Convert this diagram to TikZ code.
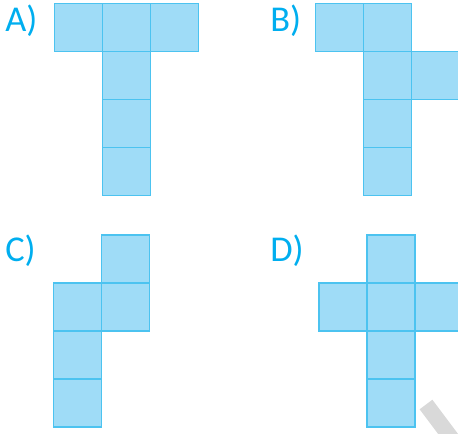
\documentclass[tikz,border=0pt]{standalone}
\usepackage{fontspec}
\setmainfont{Carlito}
\usepackage{xcolor}
\usepackage{tikz}
\usetikzlibrary{positioning}

\definecolor{cellfill}{HTML}{9FDCF7}
\definecolor{celledge}{HTML}{4CC3F0}
\definecolor{labelcyan}{HTML}{00AEEF}
\definecolor{streakgrey}{HTML}{D9D9D9}

\tikzset{
	cell/.style={draw=celledge, fill=cellfill, line width=0.85pt, minimum size=48*0.567pt, inner sep=0pt, outer sep=0pt},
	optlabel/.style={anchor=base west, inner sep=0pt, text=labelcyan, font=\fontsize{20.7pt}{24pt}\selectfont}
}

\begin{document}
\begin{tikzpicture}[x=0.02cm, y=-0.02cm]
			\useasboundingbox (0, 0) rectangle (458, 434);
			\clip (0, 0) rectangle (458, 434);
			% Option A:
			\node[optlabel] (LA) at (5, 31.7){A)};
			\node[cell] (A1) at (78.5, 27.5){};
			\node[cell] (A2) at (126.5, 27.5){};
			\node[cell] (A3) at (174.5, 27.5){};
			\node[cell] (A4) at (126.5, 75.5){};
			\node[cell] (A5) at (126.5, 123.5){};
			\node[cell] (A6) at (126.5, 171.5){};
			% Option B:
			\node[optlabel] (LB) at (270, 31.7){B)};
			\node[cell] (B1) at (339.5, 27.5){};
			\node[cell] (B2) at (387.5, 27.5){};
			\node[cell] (B3) at (387.5, 75.5){};
			\node[cell] (B4) at (435.5, 75.5){};
			\node[cell] (B5) at (387.5, 123.5){};
			\node[cell] (B6) at (387.5, 171.5){};
			% Option C:
			\node[optlabel] (LC) at (5, 261){C)};
			\node[cell] (C1) at (125.5, 259){};
			\node[cell] (C2) at (77.5, 307){};
			\node[cell] (C3) at (125.5, 307){};
			\node[cell] (C4) at (77.5, 355){};
			\node[cell] (C5) at (77.5, 403){};
			% Option D:
			\node[optlabel] (LD) at (270, 261){D)};
			\node[cell] (D1) at (391, 259){};
			\node[cell] (D2) at (343, 307){};
			\node[cell] (D3) at (391, 307){};
			\node[cell] (D4) at (439, 307){};
			\node[cell] (D5) at (391, 355){};
			\node[cell] (D6) at (391, 403){};
			% grey streak
			\draw[streakgrey, line width=9.07pt] (426, 404.5) -- (456, 444.5);
		\end{tikzpicture}
\end{document}
